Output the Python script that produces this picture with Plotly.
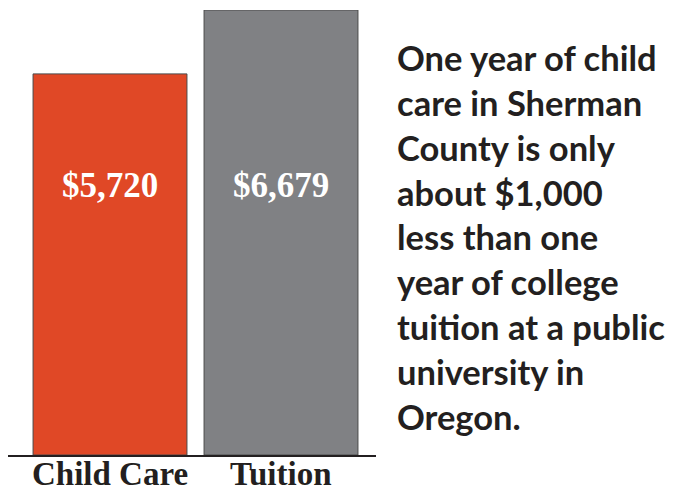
import plotly.graph_objects as go

categories = ["Child Care", "Tuition"]
values = [5720, 6679]
value_labels = ["$5,720", "$6,679"]
bar_colors = ["#E04826", "#808184"]
note_lines = ["One year of child", "care in Sherman", "County is only", "about $1,000",
              "less than one", "year of college", "tuition at a public",
              "university in", "Oregon."]

xpos = list(range(len(categories)))

fig = go.Figure()
fig.add_trace(go.Bar(
    x=xpos, y=values, width=0.9,
    marker=dict(color=bar_colors, line=dict(color="#4a4a4a", width=1)),
    hoverinfo="skip",
))

for xi, lab in zip(xpos, value_labels):
    fig.add_annotation(x=xi, xref="x", y=0.605, yref="paper", text=lab,
                       showarrow=False, xanchor="center", yanchor="middle",
                       font=dict(family="Liberation Serif", size=35, color="white", weight="bold"))

for xi, cat in zip(xpos, categories):
    fig.add_annotation(x=xi, xref="x", y=-0.043, yref="paper", text=cat,
                       showarrow=False, xanchor="center", yanchor="middle",
                       font=dict(family="Liberation Serif", size=33, color="#231f20", weight="bold"))

fig.add_annotation(x=1.052, xref="paper", y=0.491, yref="paper", text="<br>".join(note_lines),
                   showarrow=False, align="left", xanchor="left", yanchor="middle",
                   font=dict(family="Lato", size=34.5, color="#231f20", weight="bold"))

fig.update_layout(
    width=665, height=483,
    margin=dict(l=0, r=297, t=2, b=36, autoexpand=False),
    paper_bgcolor="white", plot_bgcolor="white",
    showlegend=False,
    xaxis=dict(range=[-0.5965, 1.5555], tickvals=xpos, showticklabels=False,
               showline=True, linecolor="#231f20", linewidth=1.5, showgrid=False,
               zeroline=False, ticks="", ticklen=0, automargin=False),
    yaxis=dict(range=[0, 6679], visible=False, showgrid=False, zeroline=False),
)

fig.write_html("out.html")
